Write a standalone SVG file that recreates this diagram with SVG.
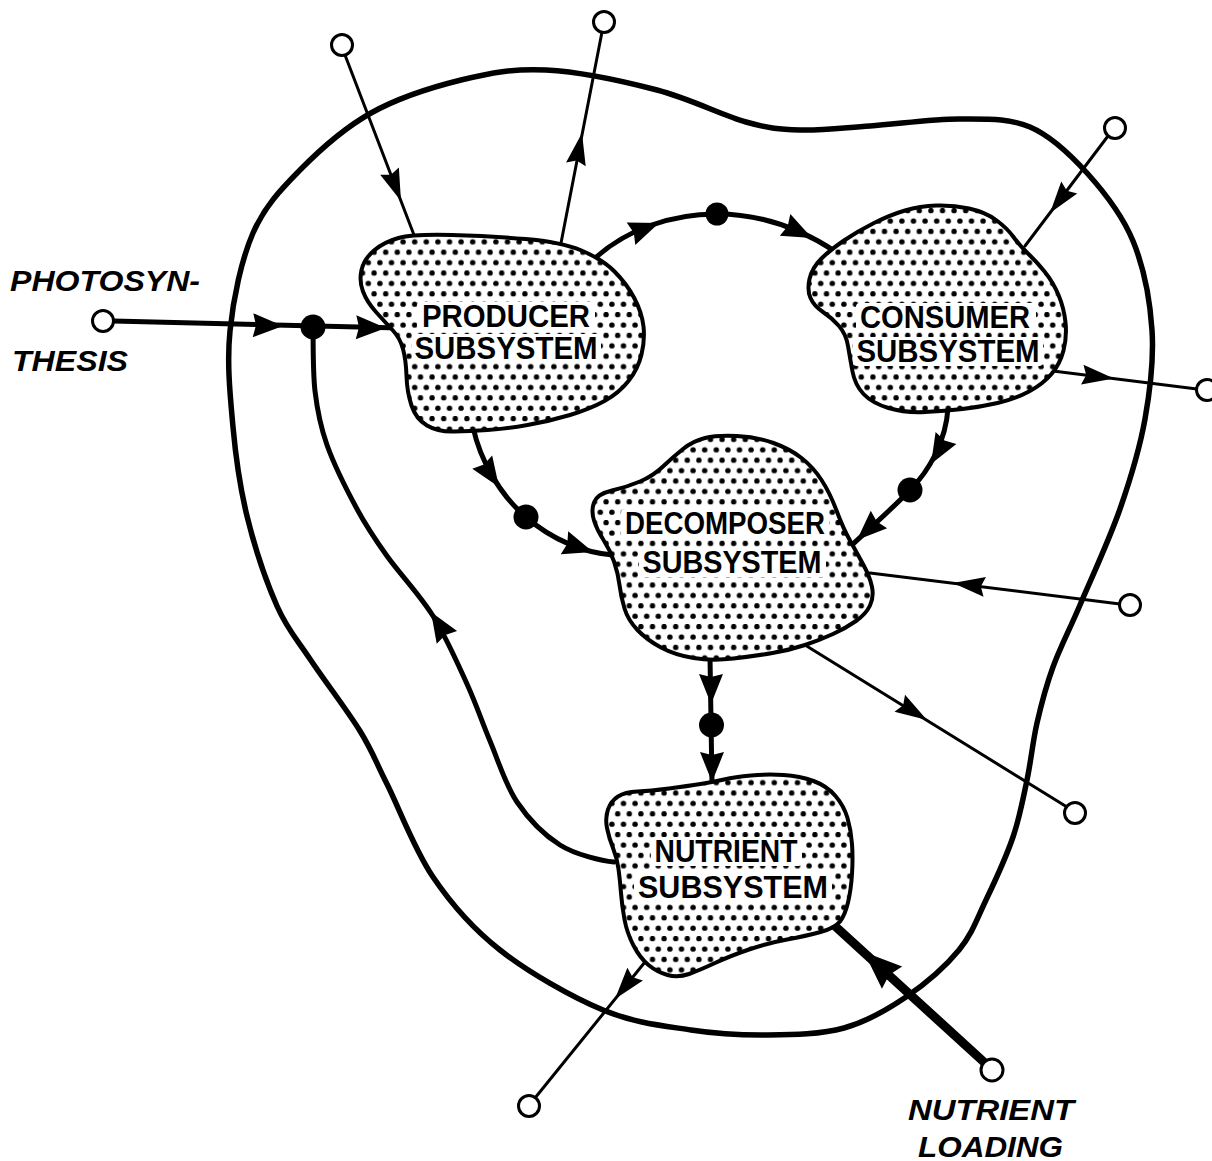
<svg xmlns="http://www.w3.org/2000/svg" width="1212" height="1161" viewBox="0 0 1212 1161">
<style>
.bnd{fill:none;stroke:#000;stroke-width:5.5;stroke-linejoin:round}
.blob{fill:url(#dots);stroke:#000;stroke-width:4;stroke-linejoin:round}
.thick{fill:none;stroke:#000;stroke-width:5;stroke-linecap:round}
.thin{fill:none;stroke:#000;stroke-width:3;stroke-linecap:round}
.load{fill:none;stroke:#000;stroke-width:9;stroke-linecap:round}
.term{fill:#fff;stroke:#000;stroke-width:3}
.lbl{font-family:"Liberation Sans",Arial,sans-serif;font-size:31px;font-weight:bold;fill:#000;text-anchor:middle}
.ital{font-family:"Liberation Sans",Arial,sans-serif;font-size:30px;font-style:italic;font-weight:bold;fill:#000}
.clr{fill:#fff}
</style>
<defs>
<pattern id="dots" patternUnits="userSpaceOnUse" width="11.6" height="20.8">
<rect width="11.6" height="20.8" fill="#fff"/>
<circle cx="2.9" cy="2.6" r="2.7" fill="#000"/>
<circle cx="8.7" cy="13" r="2.7" fill="#000"/>
</pattern>
<path id="ah" d="M0,0 L-30,-12 L-27,0 L-30,12 Z" fill="#000"/>
<path id="ahs" d="M0,0 L-32,-10 L-28,0 L-32,10 Z" fill="#000"/>
<path id="ahb" d="M0,0 L-38,-15 L-34,0 L-38,15 Z" fill="#000"/>
</defs>
<rect width="1212" height="1161" fill="#fff"/>

<g id="boundary">
<path class="bnd" d="M546,70 C578.7,71.7 623.7,81.3 657,90 C690.3,98.7 722.2,115.3 746,122 C769.8,128.7 779.3,129.3 800,130 C820.7,130.7 843.3,127.8 870,126 C896.7,124.2 933.3,118.8 960,119 C986.7,119.2 1008.8,118 1030,127 C1051.2,136 1069.8,154 1087,173 C1104.2,192 1122.2,214.8 1133,241 C1143.8,267.2 1150,300.3 1152,330 C1154,359.7 1150.3,389.2 1145,419 C1139.7,448.8 1130.8,478 1120,509 C1109.2,540 1091.2,578.7 1080,605 C1068.8,631.3 1060.2,647.3 1053,667 C1045.8,686.7 1041.3,704.2 1037,723 C1032.7,741.8 1031,761 1027,780 C1023,799 1019.8,817 1013,837 C1006.2,857 995,881.2 986,900 C977,918.8 972.3,933.8 959,950 C945.7,966.2 925.2,984 906,997 C886.8,1010 867,1021.7 844,1028 C821,1034.3 793.5,1034.7 768,1035 C742.5,1035.3 718.5,1034.2 691,1030 C663.5,1025.8 634.8,1023.3 603,1010 C571.2,996.7 528.3,972.2 500,950 C471.7,927.8 451.8,904.7 433,877 C414.2,849.3 399.2,808.3 387,784 C374.8,759.7 372.8,751.8 360,731 C347.2,710.2 323.8,679.8 310,659 C296.2,638.2 287.5,629.8 277,606 C266.5,582.2 254.3,545.8 247,516 C239.7,486.2 235.8,457.8 233,427 C230.2,396.2 226.7,363.3 230,331 C233.3,298.7 241.3,259.8 253,233 C264.7,206.2 280.3,190 300,170 C319.7,150 344.2,128 371,113 C397.8,98 431.8,87.2 461,80 C490.2,72.8 513.3,68.3 546,70 Z"/>
</g>

<g id="connectors">
<path class="thick" d="M113,321 L400,328"/>
<use href="#ah" transform="translate(283,326) rotate(1.4)"/>
<use href="#ah" transform="translate(386,328) rotate(1.4)"/>
<circle cx="313" cy="327" r="12.5" fill="#000"/>
<path class="thick" d="M313,327 C313.3,337 312.7,371.3 315,391 C317.3,410.7 320,425.3 327,445 C334,464.7 347,490.5 357,509 C367,527.5 374.3,538.2 387,556 C399.7,573.8 419.7,594.7 433,616 C446.3,637.3 457.5,663.2 467,684 C476.5,704.8 481.7,721.3 490,741 C498.3,760.7 505.3,784.7 517,802 C528.7,819.3 544.2,835 560,845 C575.8,855 603,861 614,862"/>
<use href="#ah" transform="translate(431,612) rotate(-122)"/>
<path class="thick" d="M593,260 C625,230 670,214 717,214 C760,214 800,228 836,252"/>
<use href="#ah" transform="translate(659,223) rotate(-21)"/>
<use href="#ah" transform="translate(812,238) rotate(26)"/>
<circle cx="717" cy="214" r="11.5" fill="#000"/>
<path class="thick" d="M473,427 C480,460 500,495 526,517 C552,540 585,553 613,555"/>
<use href="#ah" transform="translate(499,487) rotate(56)"/>
<use href="#ah" transform="translate(593,552) rotate(18)"/>
<circle cx="526" cy="517" r="12.5" fill="#000"/>
<path class="thick" d="M948,408 C946,440 930,470 910,490 C893,508 870,528 852,545"/>
<use href="#ah" transform="translate(931,464) rotate(120)"/>
<use href="#ah" transform="translate(857,540) rotate(137)"/>
<circle cx="910" cy="490" r="12.5" fill="#000"/>
<path class="thick" d="M710,657 L712,783"/>
<use href="#ah" transform="translate(711,704) rotate(90)"/>
<use href="#ah" transform="translate(712,782) rotate(90)"/>
<circle cx="711.5" cy="725" r="12.5" fill="#000"/>
<path class="thin" d="M345,55 L414,235"/>
<use href="#ahs" transform="translate(401,201) rotate(69)"/>
<path class="thin" d="M561,243 L602,32"/>
<use href="#ahs" transform="translate(582,133) rotate(-79)"/>
<path class="thin" d="M1108,136 L1025,246"/>
<use href="#ahs" transform="translate(1050,213) rotate(127)"/>
<path class="thin" d="M1053,371 L1197,389"/>
<use href="#ahs" transform="translate(1114,378.5) rotate(7)"/>
<path class="thin" d="M1120,604 L870,573"/>
<use href="#ahs" transform="translate(953,583) rotate(187)"/>
<path class="thin" d="M805,645 L1067,807"/>
<use href="#ahs" transform="translate(927,720) rotate(31.7)"/>
<path class="thin" d="M645,962 L535,1098"/>
<use href="#ahs" transform="translate(615,999) rotate(129)"/>
<path class="load" d="M985,1063 L836,927"/>
<use href="#ahb" transform="translate(864,952) rotate(222.4)"/>
</g>

<g id="producer">
<path class="blob" d="M398.5,238 Q413,234 451.5,235 Q490,236 525.5,239 Q561,242 581.5,250.5 Q602,259 614.5,271.5 Q627,284 634.5,298.5 Q642,313 643.5,326.5 Q645,340 641.5,354.5 Q638,369 628.5,381 Q619,393 604.5,401 Q590,409 570,415 Q550,421 527.5,425 Q505,429 487.5,430 Q470,431 454,431.5 Q438,432 427,425.5 Q416,419 411.5,405.5 Q407,392 406.5,376 Q406,360 403,349 Q400,338 392.5,330 Q385,322 376,312 Q367,302 363,291.5 Q359,281 361.5,270 Q364,259 374,250.5 Q384,242 398.5,238 Z"/>
<rect class="clr" x="417" y="302" width="178" height="29" rx="4"/>
<rect class="clr" x="412" y="334" width="189" height="29" rx="4"/>
<text class="lbl" x="506" y="327" textLength="168" lengthAdjust="spacingAndGlyphs">PRODUCER</text>
<text class="lbl" x="506" y="359" textLength="183" lengthAdjust="spacingAndGlyphs">SUBSYSTEM</text>
</g>

<g id="consumer">
<path class="blob" d="M844,240.5 Q830,250 821,259 Q812,268 809.5,279 Q807,290 810.5,298 Q814,306 823,312 Q832,318 839,326 Q846,334 848,346 Q850,358 852.5,371.5 Q855,385 863.5,394 Q872,403 888.5,408 Q905,413 925,412 Q945,411 962.5,409 Q980,407 997.5,403 Q1015,399 1029,391.5 Q1043,384 1051.5,374 Q1060,364 1063.5,350.5 Q1067,337 1065.5,322.5 Q1064,308 1058.5,295 Q1053,282 1044.5,271.5 Q1036,261 1028,253.5 Q1020,246 1013.5,237 Q1007,228 996,220 Q985,212 969,208.5 Q953,205 936.5,205.5 Q920,206 905,210.5 Q890,215 874,223 Q858,231 844,240.5 Z"/>
<rect class="clr" x="856" y="303" width="180" height="29" rx="4"/>
<rect class="clr" x="853" y="337" width="190" height="29" rx="4"/>
<text class="lbl" x="945" y="328" textLength="170" lengthAdjust="spacingAndGlyphs">CONSUMER</text>
<text class="lbl" x="948" y="362" textLength="183" lengthAdjust="spacingAndGlyphs">SUBSYSTEM</text>
</g>

<g id="decomposer">
<path class="blob" d="M594,502.5 Q597,494 612,490.5 Q627,487 640,481.5 Q653,476 663,466.5 Q673,457 683,449 Q693,441 705,438 Q717,435 737,436 Q757,437 773.5,443 Q790,449 801.5,458 Q813,467 821.5,480 Q830,493 836.5,510.5 Q843,528 850,540.5 Q857,553 863.5,565 Q870,577 872,587 Q874,597 870,605.5 Q866,614 856,621 Q846,628 833,634 Q820,640 805,645 Q790,650 772.5,653 Q755,656 733.5,658.5 Q712,661 693.5,658 Q675,655 661,647.5 Q647,640 637.5,630 Q628,620 624.5,608.5 Q621,597 619.5,585 Q618,573 614,561.5 Q610,550 603.5,540 Q597,530 594,520.5 Q591,511 594,502.5 Z"/>
<rect class="clr" x="621" y="509" width="208" height="29" rx="4"/>
<rect class="clr" x="639" y="548" width="187" height="29" rx="4"/>
<text class="lbl" x="725" y="534" textLength="200" lengthAdjust="spacingAndGlyphs">DECOMPOSER</text>
<text class="lbl" x="732" y="573" textLength="179" lengthAdjust="spacingAndGlyphs">SUBSYSTEM</text>
</g>

<g id="nutrient">
<path class="blob" d="M700.5,784 Q713,782 724,779.5 Q735,777 751,775.5 Q767,774 783.5,775 Q800,776 813.5,781 Q827,786 835.5,796 Q844,806 847.5,818 Q851,830 852,844 Q853,858 852,874 Q851,890 848,902.5 Q845,915 840,921.5 Q835,928 820.5,932 Q806,936 787,939.5 Q768,943 749,949.5 Q730,956 715,963 Q700,970 689,974 Q678,978 667.5,975 Q657,972 648.5,965 Q640,958 633.5,945.5 Q627,933 624.5,919.5 Q622,906 621,893 Q620,880 618.5,869 Q617,858 613,848 Q609,838 607,828 Q605,818 608,809.5 Q611,801 618,796.5 Q625,792 637.5,791.5 Q650,791 669,788.5 Q688,786 700.5,784 Z"/>
<rect class="clr" x="651" y="837" width="151" height="29" rx="4"/>
<rect class="clr" x="634" y="873" width="198" height="29" rx="4"/>
<text class="lbl" x="726" y="862" textLength="143" lengthAdjust="spacingAndGlyphs">NUTRIENT</text>
<text class="lbl" x="733" y="898" textLength="190" lengthAdjust="spacingAndGlyphs">SUBSYSTEM</text>
</g>

<g id="terminals">
<circle class="term" cx="103" cy="321" r="10.5"/>
<circle class="term" cx="342" cy="45" r="10.5"/>
<circle class="term" cx="604" cy="22" r="10.5"/>
<circle class="term" cx="1115" cy="128" r="10.5"/>
<circle class="term" cx="1207" cy="390" r="10.5"/>
<circle class="term" cx="1130" cy="605" r="10.5"/>
<circle class="term" cx="1075" cy="813" r="10.5"/>
<circle class="term" cx="529" cy="1106" r="10.5"/>
<circle class="term" cx="992" cy="1070" r="11"/>
</g>

<g id="labels">
<text class="ital" x="10" y="291" textLength="190" lengthAdjust="spacingAndGlyphs">PHOTOSYN-</text>
<text class="ital" x="12" y="371" textLength="116" lengthAdjust="spacingAndGlyphs">THESIS</text>
<text class="ital" x="908" y="1120" textLength="166" lengthAdjust="spacingAndGlyphs">NUTRIENT</text>
<text class="ital" x="918" y="1157" textLength="145" lengthAdjust="spacingAndGlyphs">LOADING</text>
</g>
</svg>
